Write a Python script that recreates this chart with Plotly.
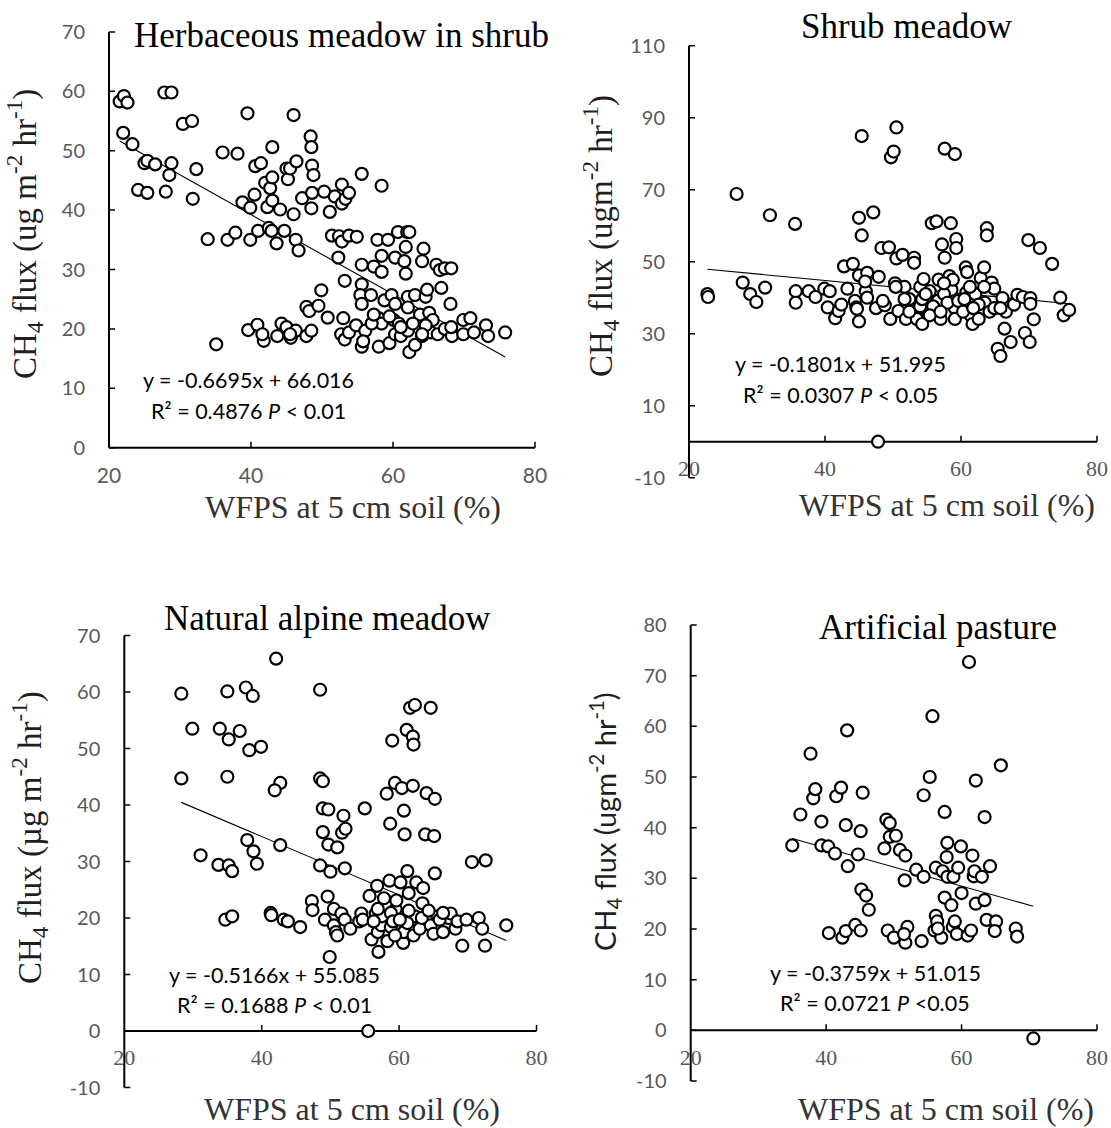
import plotly.graph_objects as go

# ---------------- data ----------------
# Herbaceous meadow in shrub
herb_x = [21.5, 22.1, 22.6, 22.0, 23.3, 24.1, 25.0, 25.4, 25.4, 26.5, 27.8, 28.8, 28.0, 28.8, 28.5,
          30.4, 31.7, 31.8, 32.3, 33.9, 35.1, 36.0, 36.7, 37.8, 38.1, 39.5, 38.8, 39.9, 39.9, 39.6,
          40.6, 41.4, 40.5, 41.0, 40.9, 41.8, 41.6, 42.0, 43.0, 42.3, 42.7, 43.0, 43.0, 42.5, 42.9,
          43.6, 43.7, 44.3, 44.1, 44.7, 45.0, 45.2, 45.5, 46.0, 46.4, 46.0, 46.3, 46.7, 45.6, 45.0,
          46.3, 47.2, 47.8, 48.2, 47.8, 48.4, 48.5, 48.6, 48.8, 48.6, 48.5, 48.5, 49.5, 49.9, 50.8,
          50.3, 51.1, 51.4, 51.8, 52.3, 52.4, 52.8, 52.8, 52.8, 53.3, 53.8, 53.2, 53.0, 52.7, 53.2,
          53.8, 53.8, 54.9, 54.8, 55.6, 55.6, 55.6, 55.4, 55.6, 55.6, 56.1, 56.9, 57.3, 57.8, 58.4,
          58.4, 58.4, 59.3, 58.0, 58.4, 58.0, 58.8, 59.5, 59.8, 60.3, 60.1, 60.3, 60.3, 60.7, 60.8,
          61.1, 61.6, 61.8, 62.0, 62.3, 61.8, 62.1, 62.1, 62.1, 62.3, 63.1, 63.1, 63.8, 64.1, 64.3,
          64.1, 64.6, 64.8, 65.1, 65.3, 66.1, 66.8, 66.6, 67.3, 68.2, 68.1, 66.3, 67.3, 68.3, 68.2,
          69.9, 69.9, 70.9, 71.4, 73.1, 73.4, 75.8, 57.0, 57.3, 59.5, 61.1, 62.8, 65.6, 64.6, 55.8,
          45.5, 64.1]
herb_y = [58.3, 59.2, 58.1, 53.0, 51.1, 43.4, 47.9, 42.9, 48.3, 47.7, 59.8, 59.8, 43.1, 47.9, 45.9,
          54.5, 55.0, 41.9, 46.9, 35.1, 17.4, 49.7, 35.0, 36.2, 49.5, 56.3, 41.3, 40.4, 35.0, 19.8,
          47.4, 47.9, 42.6, 36.5, 20.7, 18.0, 19.1, 44.6, 50.6, 40.5, 43.7, 45.5, 41.6, 37.0, 36.5,
          34.4, 18.8, 20.9, 40.1, 36.5, 47.0, 45.2, 47.0, 56.0, 48.2, 39.3, 35.0, 33.2, 18.5, 20.3,
          19.7, 42.0, 23.7, 23.0, 18.8, 52.4, 50.6, 47.5, 45.9, 42.9, 40.3, 19.7, 23.9, 26.5, 21.9,
          43.1, 39.7, 35.7, 42.3, 32.0, 35.6, 44.3, 41.1, 34.7, 41.9, 42.9, 28.1, 21.8, 19.1, 18.2,
          19.4, 35.7, 35.5, 20.6, 46.1, 30.8, 27.5, 25.7, 24.2, 17.0, 19.7, 25.7, 30.5, 35.0, 32.3,
          29.6, 44.1, 35.0, 21.8, 20.9, 17.0, 24.8, 17.6, 25.7, 24.2, 21.5, 19.1, 32.0, 36.3, 20.9,
          18.8, 31.4, 33.8, 36.3, 36.3, 29.3, 25.4, 23.6, 19.7, 16.1, 17.3, 25.7, 22.4, 31.4, 33.5,
          18.8, 25.4, 26.6, 22.7, 19.4, 30.8, 26.9, 29.9, 30.2, 30.2, 24.2, 19.1, 20.0, 18.8, 20.3,
          21.5, 19.1, 21.8, 19.4, 20.6, 18.8, 19.4, 20.9, 22.4, 22.1, 20.3, 20.9, 21.5, 20.6, 17.9,
          19.1, 19.1]

# Shrub meadow
shrub_x = [22.7, 22.8, 27.0, 27.9, 29.0, 29.9, 31.2, 31.9, 35.6, 35.7, 35.7, 37.6, 38.6, 39.9, 40.7,
           40.4, 41.5, 42.0, 42.4, 42.8, 43.3, 44.1, 44.4, 44.6, 44.7, 45.0, 45.0, 45.4, 45.4, 45.0,
           46.0, 46.2, 46.2, 47.1, 47.5, 47.9, 48.3, 48.8, 49.4, 49.6, 49.7, 50.1, 50.5, 50.3, 50.5,
           50.8, 51.4, 51.7, 51.9, 53.1, 53.1, 53.2, 53.5, 54.0, 54.3, 54.5, 55.1, 55.7, 56.4, 56.7,
           56.6, 57.0, 57.2, 57.6, 57.6, 58.3, 58.5, 58.6, 59.1, 59.3, 59.3, 59.1, 59.1, 60.7, 60.9,
           60.8, 61.1, 61.4, 61.7, 62.6, 62.9, 63.4, 63.5, 63.8, 63.8, 64.2, 64.5, 64.9, 65.4, 65.8,
           66.1, 66.4, 66.6, 67.3, 67.8, 68.3, 69.1, 69.4, 69.9, 70.1, 70.2, 70.2, 70.7, 71.6, 73.4,
           74.6, 75.1, 75.9, 47.8, 52.4, 54.8, 55.4, 55.9, 57.5, 58.0, 59.6, 60.3, 62.1, 62.6, 64.9,
           54.0, 51.7, 55.4, 57.0, 58.8, 63.4, 61.3, 52.4, 48.5, 54.3, 57.5, 54.8, 61.8, 65.8, 60.5,
           45.9, 50.4]
shrub_y = [41.0, 40.2, 68.8, 44.2, 41.0, 38.8, 42.8, 62.9, 60.5, 41.8, 38.6, 41.8, 40.2, 42.5, 41.8,
           37.3, 34.3, 36.3, 38.1, 48.7, 42.5, 49.4, 39.1, 37.3, 36.9, 33.4, 62.2, 84.9, 57.3, 46.2,
           41.8, 46.9, 40.0, 63.7, 37.1, 45.8, 53.8, 37.9, 54.0, 34.1, 79.0, 80.6, 87.3, 44.0, 50.9,
           36.3, 51.9, 43.0, 34.1, 51.1, 49.7, 36.3, 34.1, 43.0, 32.7, 45.2, 36.1, 60.7, 61.2, 45.0,
           39.1, 34.1, 54.8, 81.4, 51.1, 46.0, 60.7, 42.2, 37.1, 56.3, 53.8, 79.9, 34.1, 48.4, 47.1,
           41.5, 40.0, 35.1, 32.7, 34.1, 45.5, 48.4, 38.6, 59.3, 57.3, 36.1, 44.2, 42.5, 25.8, 23.8,
           39.9, 31.4, 36.1, 27.7, 38.1, 40.8, 40.2, 30.2, 56.0, 27.7, 39.9, 38.3, 34.0, 53.8, 49.4,
           40.0, 35.1, 36.6, 0.0, 39.6, 40.0, 41.8, 37.6, 41.0, 38.6, 39.1, 36.1, 41.0, 38.1, 37.1,
           37.6, 39.6, 35.1, 36.1, 45.0, 43.0, 43.0, 36.1, 39.1, 39.6, 44.0, 41.0, 37.1, 37.1, 39.6,
           44.5, 43.0]

# Natural alpine meadow
alpine_x = [28.3, 28.3, 29.9, 31.1, 33.9, 33.7, 35.0, 35.2, 35.0, 35.2, 35.7, 34.7, 35.7, 36.8, 37.7,
            38.7, 38.2, 39.9, 37.9, 38.8, 39.3, 42.1, 42.7, 41.9, 42.7, 41.3, 41.4, 43.2, 43.8, 45.6,
            47.3, 47.4, 48.5, 48.5, 48.9, 48.9, 48.5, 48.9, 49.7, 49.6, 49.7, 50.0, 49.2, 49.9, 50.5,
            50.8, 51.0, 51.0, 51.7, 51.9, 52.2, 52.1, 50.5, 51.6, 52.1, 52.9, 55.0, 54.2, 54.5, 55.5,
            55.7, 56.0, 56.8, 56.6, 56.9, 57.0, 57.4, 57.8, 58.2, 58.3, 58.7, 58.6, 59.0, 58.8, 59.4,
            59.5, 59.6, 60.2, 60.4, 60.6, 60.7, 60.8, 60.7, 61.1, 61.2, 61.4, 61.6, 62.0, 62.1, 62.3,
            62.0, 62.1, 62.3, 62.5, 63.0, 63.4, 63.5, 63.8, 64.0, 64.6, 64.6, 65.0, 65.1, 65.2, 65.2,
            65.6, 66.4, 67.2, 67.5, 68.2, 68.5, 69.2, 69.8, 70.6, 71.6, 72.1, 72.5, 72.6, 75.6, 57.5,
            58.8, 59.1, 61.2, 60.1, 63.3, 65.9, 54.7, 56.3, 61.4, 59.4, 64.3, 66.4, 56.9]
alpine_y = [59.7, 44.7, 53.5, 31.1, 53.5, 29.4, 60.1, 51.6, 45.0, 29.3, 28.3, 19.7, 20.3, 53.1, 60.8,
            59.3, 49.7, 50.3, 33.8, 31.8, 29.6, 65.9, 43.9, 42.6, 32.9, 20.9, 20.5, 19.7, 19.4, 18.4,
            23.0, 21.4, 60.4, 44.7, 44.2, 35.2, 29.3, 39.4, 39.2, 23.8, 33.0, 28.2, 19.7, 13.1, 18.7,
            17.5, 16.9, 32.5, 35.1, 38.1, 35.8, 28.8, 21.6, 20.8, 19.7, 18.1, 39.4, 19.4, 20.8, 0.0,
            23.9, 16.2, 25.7, 20.8, 17.5, 14.0, 18.7, 23.5, 42.0, 15.9, 36.7, 26.6, 51.4, 18.4, 43.9,
            21.6, 23.1, 26.3, 43.0, 15.6, 39.0, 34.8, 17.5, 53.3, 28.3, 24.4, 57.2, 52.1, 50.7, 57.7,
            43.4, 16.9, 20.3, 26.3, 18.1, 22.6, 25.3, 34.8, 42.1, 57.2, 18.7, 17.2, 34.5, 41.1, 27.9,
            20.3, 17.5, 20.0, 20.8, 18.1, 19.4, 15.1, 19.7, 29.9, 20.0, 18.1, 15.1, 30.2, 18.7, 20.3,
            20.9, 19.4, 19.1, 19.7, 20.0, 19.7, 19.7, 19.4, 21.3, 16.9, 21.3, 20.9, 21.6]

# Artificial pasture
pasture_x = [35.0, 36.2, 37.7, 38.1, 38.4, 39.3, 39.3, 40.3, 41.3, 40.4, 41.5, 42.2, 42.4, 42.9, 43.1,
             43.2, 42.9, 44.3, 44.7, 45.1, 45.4, 45.1, 45.2, 45.9, 46.3, 48.6, 48.9, 49.4, 49.4, 50.3,
             49.1, 50.0, 50.9, 51.7, 51.6, 52.0, 51.7, 51.5, 53.3, 54.1, 54.4, 54.4, 55.3, 55.7, 56.2,
             56.2, 56.0, 56.4, 57.0, 57.2, 57.5, 57.5, 57.8, 57.9, 57.9, 58.5, 58.8, 58.7, 59.3, 59.5,
             59.9, 60.0, 60.9, 61.1, 61.4, 61.6, 61.8, 62.1, 61.9, 62.1, 63.0, 63.4, 63.4, 63.7, 64.2,
             65.1, 64.9, 65.8, 68.0, 68.2, 70.6, 56.5, 59.0]
pasture_y = [36.5, 42.6, 54.6, 45.8, 47.6, 41.2, 36.5, 36.3, 34.9, 19.2, 46.2, 47.9, 18.3, 40.5, 59.2,
             32.4, 19.6, 20.8, 34.7, 39.3, 46.9, 19.7, 27.8, 26.6, 23.8, 35.9, 41.6, 40.9, 38.2, 38.4,
             19.7, 18.3, 35.6, 34.5, 29.6, 20.4, 17.3, 19.0, 31.7, 17.6, 46.4, 30.3, 50.0, 62.0, 32.1,
             22.6, 19.7, 21.5, 18.3, 31.4, 43.1, 26.2, 34.2, 37.0, 30.3, 24.7, 30.3, 20.4, 19.0, 32.1,
             36.3, 27.1, 18.7, 72.7, 19.7, 34.5, 30.4, 49.3, 31.4, 25.0, 30.3, 42.1, 25.7, 21.8, 32.4,
             21.5, 19.6, 52.3, 20.1, 18.5, -1.6, 20.1, 21.5]

# Fitted regressions (slope, intercept) as printed on each panel
herb_fit = (-0.6695, 66.016)
shrub_fit = (-0.1801, 51.995)
alpine_fit = (-0.5166, 55.085)
pasture_fit = (-0.3759, 51.015)

# Tick values
WFPS_TICKS = [20, 40, 60, 80]
herb_yticks = [0, 10, 20, 30, 40, 50, 60, 70]
shrub_yticks = [-10, 10, 30, 50, 70, 90, 110]
alpine_yticks = [-10, 0, 10, 20, 30, 40, 50, 60, 70]
pasture_yticks = [-10, 0, 10, 20, 30, 40, 50, 60, 70, 80]

TITLES = ["Herbaceous meadow in shrub", "Shrub meadow", "Natural alpine meadow", "Artificial pasture"]
EQ_LINES = [
    ("y = -0.6695x + 66.016", "R² = 0.4876 <i>P</i> < 0.01"),
    ("y = -0.1801x + 51.995", "R² = 0.0307 <i>P</i> < 0.05"),
    ("y = -0.5166x + 55.085", "R² = 0.1688 <i>P</i> < 0.01"),
    ("y = -0.3759x + 51.015", "R² = 0.0721 <i>P</i> <0.05"),
]
Y_TITLES = [
    "CH<sub>4</sub> flux (ug m<sup>-2</sup> hr<sup>-1</sup>)",
    "CH<sub>4</sub> flux (ugm<sup>-2</sup> hr<sup>-1</sup>)",
    "CH<sub>4</sub> flux (µg m<sup>-2</sup> hr<sup>-1</sup>)",
    "CH<sub>4</sub> flux (ugm<sup>-2</sup> hr<sup>-1</sup>)",
]
X_TITLE = "WFPS at 5 cm soil (%)"

# ---------------- layout helpers ----------------
W, H = 1111, 1128
SERIF = "Liberation Serif, Times New Roman, serif"
SANS = "Lato, Calibri, Carlito, sans-serif"
TICK_GRAY = "#595959"
CLEAR = "rgba(0,0,0,0)"
TICK_PX = 6        # inward tick length
EDGE_PX = 2        # room kept around the frame so its lines are not clipped


def px(x):
    return x / W


def py(y):
    return 1 - y / H


panels = [
    dict(data=(herb_x, herb_y), fit=herb_fit, yticks=herb_yticks, box=(109, 535, 31.9, 447.7), yr=(0, 70),
         xfont=SANS, xfs=21, xgap=9, title_xy=(341, 35), eq_xy=(248, 380, 411), yt_xy=(25, 234),
         ytfont=SERIF, xt_xy=(353, 507)),
    dict(data=(shrub_x, shrub_y), fit=shrub_fit, yticks=shrub_yticks, box=(689, 1097, 45.7, 477.7), yr=(-10, 110),
         xfont=SERIF, xfs=22, xgap=7, title_xy=(907, 27), eq_xy=(840, 364, 395), yt_xy=(600, 236),
         ytfont=SERIF, xt_xy=(947, 505)),
    dict(data=(alpine_x, alpine_y), fit=alpine_fit, yticks=alpine_yticks, box=(124.3, 536.5, 635.5, 1087.5),
         yr=(-10, 70), xfont=SERIF, xfs=22, xgap=7, title_xy=(327, 618), eq_xy=(274, 975, 1005),
         yt_xy=(29, 838), ytfont=SERIF, xt_xy=(352, 1109)),
    dict(data=(pasture_x, pasture_y), fit=pasture_fit, yticks=pasture_yticks, box=(690.7, 1097, 625, 1081),
         yr=(-10, 80), xfont=SERIF, xfs=22, xgap=7, title_xy=(938, 627), eq_xy=(875, 973, 1003),
         yt_xy=(605, 822), ytfont=SANS, xt_xy=(946, 1109)),
]

fig = go.Figure()
annotations = []


def k(name, idx):
    return name if idx == 1 else f"{name}{idx}"


for i, p in enumerate(panels, start=1):
    xs, ys = p["data"]
    slope, icpt = p["fit"]
    xa = "x" if i == 1 else f"x{i}"
    ya = "y" if i == 1 else f"y{i}"
    x_left, x_right, y_top, y_bot = p["box"]
    ylo, yhi = p["yr"]
    xlo, xhi = WFPS_TICKS[0], WFPS_TICKS[-1]

    ux = (xhi - xlo) / (x_right - x_left)      # data units per pixel
    uy = (yhi - ylo) / (y_bot - y_top)

    # frame: y axis line at WFPS = 20, x axis line at flux = 0, short inward ticks
    fx = [xlo, xlo, None, xlo, xhi]
    fy = [ylo, yhi, None, 0, 0]
    tx_, ty_ = [], []
    for t in p["yticks"]:
        tx_ += [xlo, xlo + TICK_PX * ux, None]
        ty_ += [t, t, None]
    for t in WFPS_TICKS[1:]:
        tx_ += [t, t, None]
        ty_ += [0, TICK_PX * uy, None]
    fig.add_trace(go.Scatter(x=fx, y=fy, mode="lines", xaxis=xa, yaxis=ya, connectgaps=False,
                             line=dict(color="black", width=2), showlegend=False, hoverinfo="skip"))
    fig.add_trace(go.Scatter(x=tx_, y=ty_, mode="lines", xaxis=xa, yaxis=ya, connectgaps=False,
                             line=dict(color="black", width=1.5), showlegend=False, hoverinfo="skip"))

    # trend line over the observed WFPS span
    lx = [min(xs), max(xs)]
    ly = [slope * v + icpt for v in lx]
    fig.add_trace(go.Scatter(x=lx, y=ly, mode="lines", xaxis=xa, yaxis=ya,
                             line=dict(color="black", width=1.1), showlegend=False, hoverinfo="skip"))
    # observations
    fig.add_trace(go.Scatter(x=xs, y=ys, mode="markers", xaxis=xa, yaxis=ya, cliponaxis=False,
                             marker=dict(symbol="circle", size=12, color="white",
                                         line=dict(color="black", width=2.2)),
                             showlegend=False))

    zero_py = y_bot - (0 - ylo) / (yhi - ylo) * (y_bot - y_top)
    xdom = [px(x_left - EDGE_PX), px(x_right + EDGE_PX)]
    ydom = [py(y_bot + EDGE_PX), py(y_top - EDGE_PX)]
    fig.update_layout(**{
        # tick labels only; transparent outward ticks set the label distance
        k("xaxis", i): dict(domain=xdom, range=[xlo - EDGE_PX * ux, xhi + EDGE_PX * ux],
                            tickvals=WFPS_TICKS, ticktext=[str(v) for v in WFPS_TICKS],
                            anchor="free", position=py(zero_py), showline=False,
                            ticks="outside", ticklen=p["xgap"], tickcolor=CLEAR,
                            showgrid=False, zeroline=False,
                            tickfont=dict(family=p["xfont"], size=p["xfs"], color=TICK_GRAY)),
        k("yaxis", i): dict(domain=ydom, range=[ylo - EDGE_PX * uy, yhi + EDGE_PX * uy],
                            tickvals=p["yticks"], ticktext=[str(v) for v in p["yticks"]],
                            anchor="free", position=px(x_left), showline=False,
                            ticks="outside", ticklen=20, tickcolor=CLEAR,
                            showgrid=False, zeroline=False,
                            tickfont=dict(family=SANS, size=20, color=TICK_GRAY)),
    })

    # panel title
    tx, ty = p["title_xy"]
    annotations.append(dict(text=TITLES[i - 1], x=px(tx), y=py(ty), xref="paper", yref="paper",
                            showarrow=False, xanchor="center", yanchor="middle",
                            font=dict(family=SERIF, size=35, color="black")))
    # regression equation
    ex, ey1, ey2 = p["eq_xy"]
    for txt, yy in zip(EQ_LINES[i - 1], (ey1, ey2)):
        annotations.append(dict(text=txt, x=px(ex), y=py(yy), xref="paper", yref="paper",
                                showarrow=False, xanchor="center", yanchor="middle",
                                font=dict(family=SANS, size=21.5, color="black")))
    # axis titles
    yx, yy = p["yt_xy"]
    annotations.append(dict(text=Y_TITLES[i - 1], x=px(yx), y=py(yy), xref="paper", yref="paper",
                            showarrow=False, textangle=-90, xanchor="center", yanchor="middle",
                            font=dict(family=p["ytfont"], size=33 if p["ytfont"] == SERIF else 29,
                                      color="#1f1f1f")))
    xx, xy = p["xt_xy"]
    annotations.append(dict(text=X_TITLE, x=px(xx), y=py(xy), xref="paper", yref="paper",
                            showarrow=False, xanchor="center", yanchor="middle",
                            font=dict(family=SERIF, size=32, color="#333333")))

fig.update_layout(width=W, height=H, margin=dict(l=0, r=0, t=0, b=0, autoexpand=False),
                  paper_bgcolor="white", plot_bgcolor="white", annotations=annotations,
                  showlegend=False)

fig.write_html("out.html")
